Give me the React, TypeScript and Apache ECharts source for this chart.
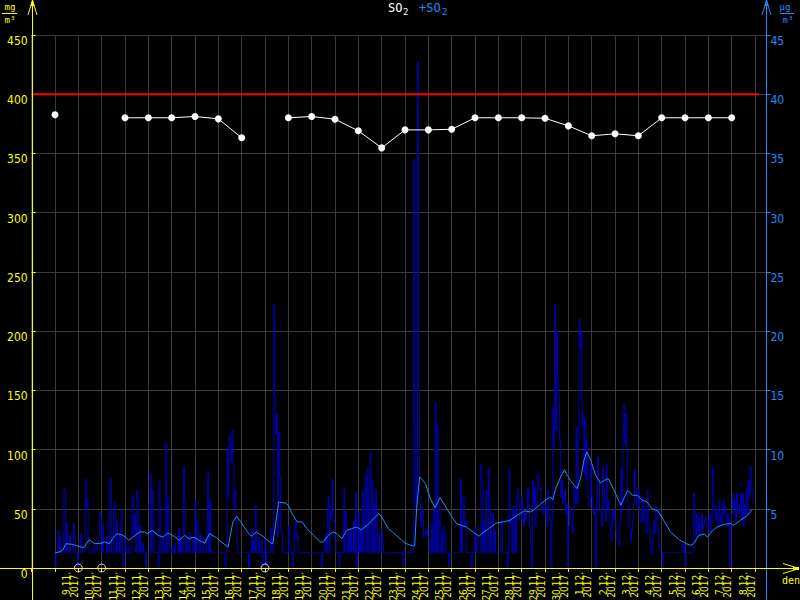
import React, { useEffect, useRef } from 'react';
import * as echarts from 'echarts';

// ---- Data ----
const DAY_LABELS = [
  '9.11.', '10.11.', '11.11.', '12.11.', '13.11.', '14.11.', '15.11.', '16.11.', '17.11.', '18.11.',
  '19.11.', '20.11.', '21.11.', '22.11.', '23.11.', '24.11.', '25.11.', '26.11.', '27.11.', '28.11.',
  '29.11.', '30.11.', '1.12.', '2.12.', '3.12.', '4.12.', '5.12.', '6.12.', '7.12.', '8.12.'
];
const YEAR_LABEL = '2017';

// hourly SO2 values (µg/m3), one row of 24 per day
const HOURLY_BY_DAY: number[][] = [
  [1.3,0,1.3,1.3,3.2,1.3,2.6,1.3,1.3,1.3,6.7,6.3,1.3,3.8,1.3,1.3,2.8,1.3,1.3,1.3,3.8,2.6,1.3,1.3],
  [0,1.3,1.3,2.9,1.8,1.3,1.3,1.5,7.5,5.0,5.9,2.6,1.3,1.3,1.3,1.5,1.3,1.3,2.1,1.8,1.5,2.1,2.4,4.7],
  [4.3,1.3,3.7,1.3,1.3,1.3,2.6,1.3,1.3,7.4,7.5,1.3,1.3,4.8,5.6,1.3,4.0,1.3,1.3,2.8,1.3,4.9,1.3,0],
  [1.3,2.6,1.3,1.3,1.8,1.3,1.3,1.3,5.3,6.1,2.8,4.5,1.3,6.6,5.7,1.3,3.5,1.3,1.3,2.1,1.3,1.3,0,1.3],
  [1.3,1.3,1.3,8.0,1.3,6.6,4.0,1.3,1.3,1.3,1.3,0,7.3,5.2,1.3,1.3,2.6,1.3,1.3,10.5,1.3,6.0,2.6,1.3],
  [1.3,1.8,1.3,1.3,2.1,1.3,1.3,1.3,3.4,1.3,2.6,1.3,1.3,8.5,5.8,1.3,2.3,1.3,1.3,3.0,1.3,1.3,1.3,2.6],
  [1.3,5.6,1.3,4.0,1.3,1.3,2.9,1.3,1.3,1.3,2.6,1.3,1.3,3.5,8.0,1.3,5.8,1.3,1.4,1.3,1.3,1.3,1.3,1.3],
  [1.3,1.3,1.3,1.3,1.3,1.3,1.3,1.3,0,1.3,10.2,6.0,11.2,10.6,9.0,11.6,8.8,5.0,6.6,4.0,2.0,1.3,1.3,1.3],
  [1.3,1.3,1.3,1.3,1.3,1.3,1.3,1.3,0,1.3,1.3,3.3,1.3,2.3,1.3,5.3,1.3,1.3,2.6,1.3,1.3,2.3,0,1.3],
  [1.3,2.6,0,1.3,1.3,1.3,1.35,3.4,1.3,1.3,22.2,14.5,11.3,13.0,2.6,11.5,7.7,3.2,2.9,1.3,1.3,1.3,1.2,1.3],
  [1.3,3.5,2.0,1.3,1.3,0,1.3,3.3,3.9,2.4,2.9,1.3,1.3,1.3,1.3,1.3,1.3,1.3,1.3,1.3,1.3,1.3,1.3,1.3],
  [1.3,1.3,1.3,1.3,1.3,1.3,1.3,1.3,1.3,1.3,1.3,0,1.3,1.3,1.3,2.9,1.3,4.9,6.0,1.3,5.2,4.1,7.5,4.6],
  [3.9,2.3,1.3,1.3,1.3,0,1.3,1.3,1.3,1.3,6.7,1.3,4.7,3.5,1.3,2.9,1.3,3.3,1.3,1.3,4.0,1.3,6.4,0],
  [1.3,4.6,1.3,3.2,1.3,6.6,1.3,5.4,7.7,1.3,8.4,1.3,6.8,9.8,1.3,7.4,1.3,5.4,1.3,6.6,4.0,1.3,2.9,1.3],
  [1.3,3.2,2.0,1.3,1.3,1.3,1.3,1.3,1.3,1.3,1.3,1.3,1.3,1.3,1.3,1.3,1.3,1.3,1.3,1.3,1.3,1.3,1.3,0],
  [1.3,1.3,1.3,1.3,1.3,1.3,1.3,1.3,1.3,1.3,34.5,12,5.2,7.5,42.7,15,6.0,3.5,4.6,5.0,2.6,3.0,2.9,3.3],
  [2.6,2.6,1.3,1.3,3.8,1.3,4.9,1.3,14.0,1.3,12.2,1.3,5.2,3.5,1.3,2.9,1.3,3.5,2.9,1.3,1.3,1.3,0,1.3],
  [1.3,1.3,1.3,1.3,1.3,1.3,1.3,1.3,1.3,1.3,7.5,1.3,4.0,6.0,3.5,4.0,1.3,1.3,1.3,1.3,1.3,0,1.3,1.3],
  [1.3,3.5,1.3,2.6,1.3,1.3,1.3,8.8,7.4,1.3,4.0,1.3,6.6,4.0,1.3,8.4,5.2,1.3,3.5,4.6,1.3,3.2,1.3,1.3],
  [1.3,1.3,1.3,2.9,4.1,1.3,1.3,1.3,1.3,1.3,0,1.3,8.4,3.7,4.3,1.3,5.2,1.3,5.2,1.3,6.0,6.7,5.7,4.0],
  [4.0,6.0,4.6,3.5,4.6,4.0,4.6,6.8,5.7,3.5,2.0,0,7.4,5.4,6.8,3.5,5.4,8.0,7.1,6.6,6.8,5.4,4.6,5.4],
  [5.4,4.6,5.1,3.5,6.6,5.7,4.0,0,4.0,13.6,10.1,22.2,11.6,20.1,16.0,14.4,10.8,6.0,7.4,5.4,5.7,6.6,4.6,5.4],
  [0,3.5,5.2,4.0,3.7,2.9,4.6,6.8,5.4,11.9,5.4,10.8,21.0,18.5,20.0,12.0,13.0,8.0,12.5,7.4,10.8,6.0,5.2,5.2],
  [8.8,6.0,5.2,4.5,5.0,0,6.0,9.4,7.4,5.0,4.6,3.5,8.5,6.6,5.0,4.0,8.8,5.0,5.7,4.0,3.2,2.3,4.9,4.0],
  [4.9,4.0,3.2,2.3,2.3,1.8,3.5,8.5,5.0,11.6,13.9,10.5,13.0,10.2,5.5,4.6,3.5,2.3,3.2,4.0,5.5,8.3,6.8,5.2],
  [5.2,6.6,4.6,4.0,3.8,6.0,4.0,5.0,3.2,2.9,6.6,4.0,3.5,2.3,1.3,1.2,3.5,4.0,2.9,5.2,4.6,3.2,1.8,1.5],
  [1.3,1.3,0,1.3,1.3,1.3,1.3,1.3,1.3,1.3,1.3,1.3,1.3,1.3,1.3,1.3,1.3,1.3,1.3,1.3,1.3,1.3,2.0,1.3],
  [2.0,0,1.3,1.3,1.3,1.3,1.3,1.3,1.3,1.3,6.3,3.7,2.6,4.6,3.2,4.3,2.6,2.9,4.6,3.2,3.7,4.0,4.3,3.5],
  [3.2,4.0,4.6,3.0,4.0,8.4,6.3,5.2,4.0,5.0,4.0,3.5,5.7,4.0,4.6,3.5,5.7,4.6,5.2,4.3,3.5,4.6,3.5,0],
  [3.5,4.6,6.3,5.0,5.7,4.0,6.3,5.0,4.6,5.4,6.3,4.0,6.3,3.5,5.4,4.6,6.8,4.3,7.4,6.0,8.6,6.8,6.3,5.5]
];

// running average (µg/m3): [hour since 9.11. 0:00, value]
const AVG_POINTS: [number, number][] = [
  [0,1.27],[4,1.35],[8,1.5],[11,2.05],[18,2.0],[23,1.86],[27,1.77],[30,1.72],[35,2.4],[40,2.1],
  [46,2.05],[51,2.2],[56,2.05],[61,2.68],[64,2.9],[70,2.76],[76,2.34],[80,2.6],[87,3.04],[92,3.04],
  [95,2.9],[100,3.18],[106,2.76],[111,2.6],[116,2.96],[121,2.76],[128,2.34],[133,2.76],[138,2.48],[143,2.6],
  [148,2.34],[154,2.1],[159,2.9],[166,2.56],[171,2.2],[176,1.9],[178,1.77],[183,3.9],[187,4.37],[191,3.9],
  [198,3.04],[202,2.68],[207,3.04],[214,2.68],[222,2.1],[224,2.05],[227,3.75],[230,5.55],[237,5.49],[240,5.3],
  [243,4.73],[249,3.89],[254,3.89],[259,3.32],[266,2.76],[273,2.2],[276,2.2],[281,2.76],[286,3.04],[290,2.9],
  [295,2.48],[300,3.18],[305,3.32],[310,3.46],[315,3.24],[321,3.6],[326,4.03],[333,4.59],[336,4.31],[343,3.32],
  [351,2.76],[360,2.1],[369,1.83],[370,1.92],[372,5.15],[375,7.69],[381,7.13],[386,5.86],[391,5.1],[396,5.94],
  [401,5.3],[406,4.59],[413,3.75],[418,3.6],[423,3.46],[430,3.04],[436,2.68],[441,3.04],[446,3.32],[454,3.8],
  [461,3.89],[468,4.03],[473,4.31],[478,4.59],[483,4.82],[489,4.73],[494,5.01],[500,5.44],[505,5.77],[510,6.0],
  [512,5.77],[515,6.7],[520,7.69],[524,8.31],[527,7.8],[530,7.4],[534,6.99],[537,6.7],[541,7.69],[544,9.1],
  [547,9.8],[551,9.1],[556,7.83],[561,7.18],[565,7.4],[569,7.55],[575,6.56],[582,5.3],[585,5.86],[589,6.56],
  [594,6.14],[599,6.14],[604,5.72],[609,5.58],[614,5.0],[620,4.82],[625,4.17],[633,3.04],[642,2.39],[649,2.06],
  [654,1.92],[657,2.06],[662,2.76],[668,2.85],[671,2.62],[676,3.13],[681,3.46],[688,3.69],[695,3.75],[698,3.6],
  [705,4.03],[712,4.45],[717,4.93]
];

// daily values on the left axis (null = missing day)
const DAILY_VALUES: (number | null)[] = [
  382.6, null, null, 380.1, 380.1, 380.1, 381.2, 379.2, 363.2, null,
  380.1, 381.2, 378.9, 369.1, 354.7, 369.9, 369.9, 370.4, 380.1, 380.1,
  380.1, 379.7, 373.3, 364.9, 366.6, 364.9, 380.1, 380.1, 380.1, 380.1
];
const MISSING_DAYS = [1, 2, 9];
const LIMIT_VALUE = 400;
const LIMIT_RANGE = [-24, 724];

const YELLOW = '#ffff00';
const BLUE = '#1e8cff';
const DARK_BLUE = '#0000b4';
const GRID = '#3a3a3a';
const NARROW = "'Liberation Sans Narrow', 'DejaVu Sans Condensed', 'Roboto Condensed', sans-serif";
const MONO = "'DejaVu Sans Mono', monospace";

export default function App() {
  const ref = useRef<HTMLDivElement>(null);

  useEffect(() => {
    document.body.style.margin = '0';
    document.body.style.background = '#000';
    const chart = echarts.init(ref.current!, null, { renderer: 'svg' });

    const hourly = HOURLY_BY_DAY.flat().map((v, i) => [i, v]);
    const daily = DAILY_VALUES.map((v, k) => [k * 24, v === null ? '-' : v]);
    const missing = MISSING_DAYS.map((k) => [k * 24, 0]);
    const labelPos = DAY_LABELS.map((_, k) => k * 24 + 16);

    const option: any = {
      animation: false,
      backgroundColor: '#000',
      grid: { left: 31.67, right: 33.5, top: 35, bottom: 32, containLabel: false, outerBoundsMode: 'none' },
      xAxis: {
        type: 'value',
        min: -24,
        max: 731.8,
        interval: 24,
        axisLine: { show: false, onZero: false },
        axisTick: { show: true, length: 4, lineStyle: { color: YELLOW } },
        splitLine: { show: true, lineStyle: { color: GRID, width: 1 } },
        axisLabel: {
          customValues: labelPos,
          showMinLabel: true,
          showMaxLabel: true,
          hideOverlap: false,
          rotate: 90,
          margin: 4,
          color: YELLOW,
          fontFamily: NARROW,
          fontSize: 10,
          lineHeight: 8,
          formatter: (v: number) => {
            const k = Math.round((v - 16) / 24);
            return DAY_LABELS[k] + '\n' + YEAR_LABEL + ' ';
          }
        }
      },
      yAxis: [
        {
          type: 'value', min: 0, max: 450, interval: 50, position: 'left',
          axisLine: { show: false, onZero: false },
          axisTick: { show: true, inside: true, length: 4, lineStyle: { color: YELLOW } },
          splitLine: { show: true, lineStyle: { color: GRID, width: 1 } },
          axisLabel: { color: YELLOW, fontFamily: NARROW, fontSize: 12, verticalAlign: 'top', margin: 4 }
        },
        {
          type: 'value', min: 0, max: 45, interval: 5, position: 'right',
          axisLine: { show: false, onZero: false },
          axisTick: { show: true, inside: false, length: 4, lineStyle: { color: BLUE } },
          splitLine: { show: false },
          axisLabel: {
            color: BLUE, fontFamily: NARROW, fontSize: 12, verticalAlign: 'top', margin: 4,
            formatter: (v: number) => (v === 0 ? '' : String(v))
          }
        }
      ],
      series: [
        {
          type: 'line', yAxisIndex: 1, data: hourly, step: 'start', showSymbol: false,
          lineStyle: { color: DARK_BLUE, width: 1 }, z: 2
        },
        {
          type: 'line', yAxisIndex: 1, data: AVG_POINTS, showSymbol: false,
          lineStyle: { color: BLUE, width: 1 }, z: 3
        },
        {
          type: 'line', yAxisIndex: 0, data: [[LIMIT_RANGE[0], LIMIT_VALUE], [LIMIT_RANGE[1], LIMIT_VALUE]],
          showSymbol: false, lineStyle: { color: '#ff0000', width: 2 }, z: 4
        },
        {
          type: 'line', yAxisIndex: 0, data: daily, connectNulls: false, symbol: 'circle', symbolSize: 7,
          showSymbol: true, itemStyle: { color: '#ffffff' }, lineStyle: { color: '#ffffff', width: 1 }, z: 5
        },
        {
          type: 'scatter', yAxisIndex: 0, data: missing, symbol: 'circle', symbolSize: 8, clip: false,
          itemStyle: { color: 'rgba(0,0,0,0)', borderColor: '#ffffff', borderWidth: 1 }, z: 6
        }
      ],
      graphic: [
        // axis lines
        { type: 'line', shape: { x1: 32.5, y1: 0, x2: 32.5, y2: 600 }, style: { stroke: YELLOW, lineWidth: 1 }, z: 10 },
        { type: 'line', shape: { x1: 766.5, y1: 0, x2: 766.5, y2: 600 }, style: { stroke: BLUE, lineWidth: 1 }, z: 10 },
        { type: 'line', shape: { x1: 0, y1: 568.5, x2: 798, y2: 568.5 }, style: { stroke: YELLOW, lineWidth: 1 }, z: 10 },
        // arrows
        { type: 'polyline', shape: { points: [[28, 15], [32.5, 0], [37, 15]] }, style: { stroke: YELLOW, lineWidth: 1, fill: null }, z: 10 },
        { type: 'polygon', shape: { points: [[32.5, 0], [30.5, 6], [34.5, 6]] }, style: { fill: YELLOW }, z: 10 },
        { type: 'polyline', shape: { points: [[762, 15], [766.5, 0], [771, 15]] }, style: { stroke: BLUE, lineWidth: 1, fill: null }, z: 10 },
        { type: 'polygon', shape: { points: [[766.5, 0], [764.5, 6], [768.5, 6]] }, style: { fill: BLUE }, z: 10 },
        { type: 'polyline', shape: { points: [[783, 563.5], [799, 568.5], [783, 573.5]] }, style: { stroke: YELLOW, lineWidth: 1, fill: null }, z: 10 },
        { type: 'rect', shape: { x: 793, y: 567, width: 6, height: 3 }, style: { fill: YELLOW }, z: 10 },
        { type: 'text', style: { text: 'den', x: 791, y: 580, fill: YELLOW, font: `10px ${MONO}`, align: 'center', verticalAlign: 'middle' }, z: 10 },
        // units
        { type: 'text', style: { text: 'mg', x: 10, y: 7, fill: YELLOW, font: `9px ${MONO}`, align: 'center', verticalAlign: 'middle' }, z: 10 },
        { type: 'line', shape: { x1: 2, y1: 13.5, x2: 17, y2: 13.5 }, style: { stroke: YELLOW, lineWidth: 1 }, z: 10 },
        { type: 'text', style: { text: 'm³', x: 10, y: 20, fill: YELLOW, font: `9px ${MONO}`, align: 'center', verticalAlign: 'middle' }, z: 10 },
        { type: 'text', style: { text: 'µg', x: 785, y: 7, fill: BLUE, font: `9px ${MONO}`, align: 'center', verticalAlign: 'middle' }, z: 10 },
        { type: 'line', shape: { x1: 780, y1: 13.5, x2: 794, y2: 13.5 }, style: { stroke: BLUE, lineWidth: 1 }, z: 10 },
        { type: 'text', style: { text: 'm³', x: 788, y: 20, fill: BLUE, font: `9px ${MONO}`, align: 'center', verticalAlign: 'middle' }, z: 10 },
        // title
        { type: 'text', style: { text: 'SO', x: 388, y: 8, fill: '#ffffff', font: `12px ${MONO}`, align: 'left', verticalAlign: 'middle' }, z: 10 },
        { type: 'text', style: { text: '2', x: 403, y: 12, fill: '#ffffff', font: `9px ${MONO}`, align: 'left', verticalAlign: 'middle' }, z: 10 },
        { type: 'text', style: { text: '+SO', x: 419, y: 8, fill: BLUE, font: `12px ${MONO}`, align: 'left', verticalAlign: 'middle' }, z: 10 },
        { type: 'text', style: { text: '2', x: 442, y: 12, fill: BLUE, font: `9px ${MONO}`, align: 'left', verticalAlign: 'middle' }, z: 10 }
      ]
    };

    chart.setOption(option);
    return () => chart.dispose();
  }, []);

  return (
    <div
      ref={ref}
      style={{ position: 'fixed', left: 0, top: 0, width: 800, height: 600, background: '#000' }}
    />
  );
}
